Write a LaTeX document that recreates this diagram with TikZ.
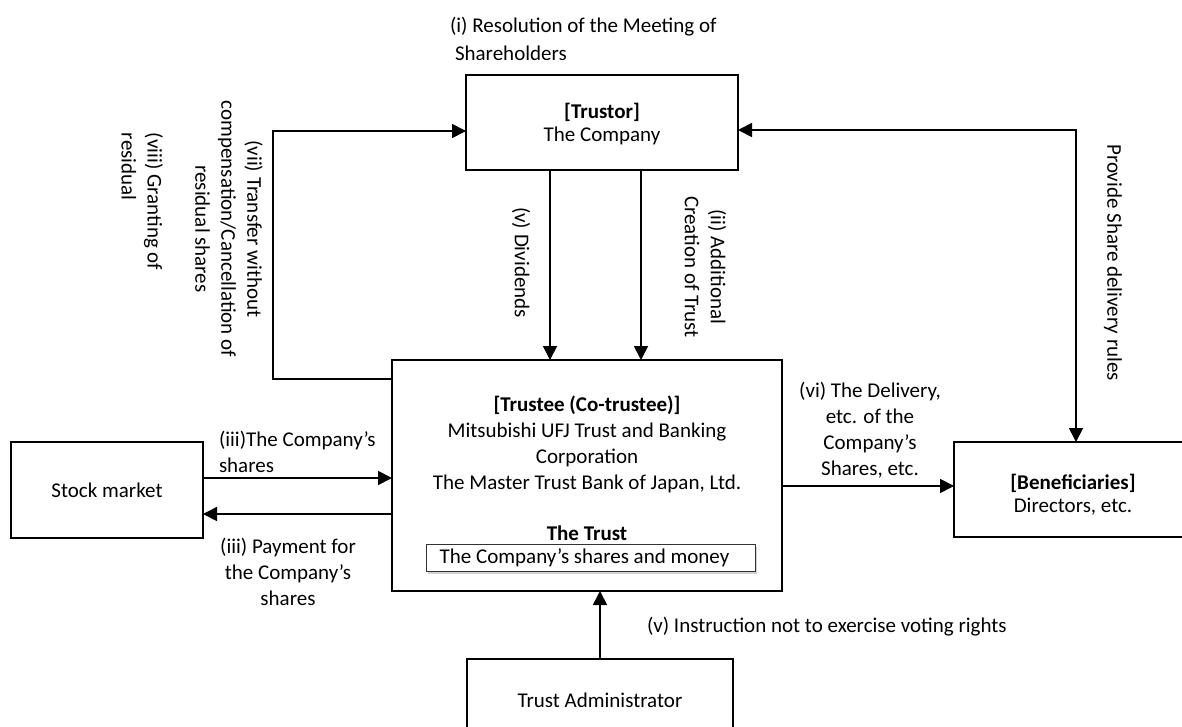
\documentclass[tikz,border=0pt]{standalone}
\usepackage{fontspec}
\setmainfont{Carlito}
\usetikzlibrary{arrows.meta,shadows,calc}
\begin{document}
\begin{tikzpicture}[x=1pt,y=-1pt,
  every node/.style={font=\fontsize{21}{26}\selectfont, inner sep=0pt, outer sep=0pt},
  box/.style={draw, line width=1.8pt, rectangle},
  arr/.style={line width=1.8pt, -{Triangle[length=14pt,width=14pt]}},
  arrtwo/.style={line width=1.8pt, {Triangle[length=14pt,width=14pt]}-{Triangle[length=14pt,width=14pt]}},
  ]
\useasboundingbox (0,0) rectangle (1182,727);
\clip (0,0) rectangle (1182,727);
\fill[white] (0,0) rectangle (1182,727);

% boxes
\node[box, minimum width=272pt, minimum height=95pt] (trustor) at (602,122.5) {};
\node[box, minimum width=390pt, minimum height=231pt] (trustee) at (587,475.5) {};
\node[box, minimum width=192pt, minimum height=96pt] (stock) at (107,490) {Stock market};
\node[box, minimum width=238pt, minimum height=95pt] (benef) at (1073,489.5) {};
\node[box, minimum width=266pt, minimum height=82pt] (admin) at (600,700) {Trust Administrator};

% box texts
\node[align=center, font=\fontsize{21}{23}\selectfont] (trustortext) at (602,124) {\textbf{[Trustor]}\\The Company};
\node[align=center, font=\fontsize{21}{23}\selectfont] (beneftext) at (1073,495) {\textbf{[Beneficiaries]}\\Directors, etc.};
\node[align=center] (trusteetext) at (587,444) {\textbf{[Trustee (Co-trustee)]}\\Mitsubishi UFJ Trust and Banking\\Corporation\\The Master Trust Bank of Japan, Ltd.};
\node (trusttitle) at (587,533) {\textbf{The Trust}};
\node[draw=black!80, line width=1pt, fill=white, minimum width=329pt, minimum height=27pt,
      drop shadow={opacity=0.35, shadow xshift=1.5pt, shadow yshift=-3pt}] (inner) at (590.5,557.5) {\hspace*{-12pt}The Company’s shares and money};

% connector coordinates
\coordinate (lc) at (273,379);
\coordinate (lt) at (273,131);
\coordinate (dv) at (550,0);
\coordinate (ad) at (641,0);
\coordinate (rt) at (1076,130);
\coordinate (sy1) at (0,478);
\coordinate (sy2) at (0,514);
\coordinate (by) at (0,486);

% connectors
\draw[arr] (trustee.west |- lc) -- (lc) -- (lt) -- (trustor.west |- lt);
\draw[arr] (trustor.south -| dv) -- (trustee.north -| dv);
\draw[arr] (trustor.south -| ad) -- (trustee.north -| ad);
\draw[arrtwo] (trustor.east |- rt) -- (rt) -- (benef.north -| rt);
\draw[arr] (stock.east |- sy1) -- (trustee.west |- sy1);
\draw[arr] (trustee.west |- sy2) -- (stock.east |- sy2);
\draw[arr] (trustee.east |- by) -- (benef.west |- by);
\draw[arr] (admin.north) -- (trustee.south -| admin.north);

% labels
\node[anchor=west, align=left, font=\fontsize{21}{28}\selectfont] (l1) at (450,39) {(i) Resolution of the Meeting of\\\hspace*{5pt}Shareholders};
\node[rotate=-90, align=center] (l7) at (229,229) {(vii) Transfer without\\compensation/Cancellation of\\residual shares};
\node[rotate=-90, align=left, anchor=north west] (l8) at (163,133) {(viii) Granting of\\residual};
\node[rotate=-90] (l5) at (521,262.5) {(v) Dividends};
\node[rotate=-90, align=center] (l2) at (705.5,267) {(ii) Additional\\Creation of Trust};
\node[rotate=-90] (lr) at (1113,262.5) {Provide Share delivery rules};
\node[anchor=west, align=left] (l3a) at (219,452) {(iii)The Company’s\\shares};
\node[align=center] (l3b) at (288,571.5) {(iii) Payment for\\the Company’s\\shares};
\node[align=center] (l6) at (870,430.5) {(vi) The Delivery,\\etc. of the\\Company’s\\Shares, etc.};
\node[anchor=west] (l5b) at (647,627) {(v) Instruction not to exercise voting rights};
\end{tikzpicture}
\end{document}
